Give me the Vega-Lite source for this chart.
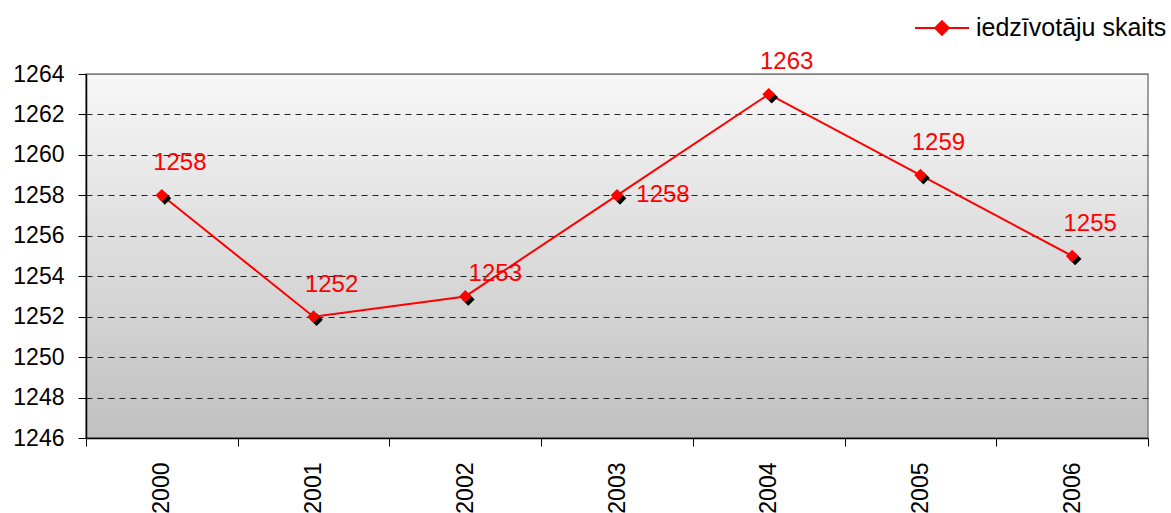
{
  "$schema": "https://vega.github.io/schema/vega-lite/v6.json",
  "width": 1062,
  "height": 364,
  "autosize": {"type": "none"},
  "padding": {"left": 86, "top": 74, "right": 23, "bottom": 75},
  "background": "white",
  "config": {
    "font": "Liberation Sans",
    "view": {
      "stroke": "#808080",
      "strokeWidth": 1.5,
      "fill": {
        "gradient": "linear",
        "x1": 0, "y1": 0, "x2": 0, "y2": 1,
        "stops": [
          {"offset": 0, "color": "#f7f7f7"},
          {"offset": 1, "color": "#c0c0c0"}
        ]
      }
    }
  },
  "data": {
    "values": [
      {"year": "2000", "value": 1258, "series": "iedzīvotāju skaits", "pos": "above"},
      {"year": "2001", "value": 1252, "series": "iedzīvotāju skaits", "pos": "above"},
      {"year": "2002", "value": 1253, "series": "iedzīvotāju skaits", "pos": "aboveright"},
      {"year": "2003", "value": 1258, "series": "iedzīvotāju skaits", "pos": "right"},
      {"year": "2004", "value": 1263, "series": "iedzīvotāju skaits", "pos": "above"},
      {"year": "2005", "value": 1259, "series": "iedzīvotāju skaits", "pos": "above"},
      {"year": "2006", "value": 1255, "series": "iedzīvotāju skaits", "pos": "above"}
    ]
  },
  "encoding": {
    "x": {
      "field": "year",
      "type": "ordinal",
      "scale": {"paddingInner": 0, "paddingOuter": 0},
      "axis": {
        "title": null,
        "tickBand": "extent",
        "labelAngle": -90,
        "labelAlign": "right",
        "labelBaseline": "middle",
        "labelFontSize": 23,
        "labelColor": "black",
        "labelPadding": 16,
        "tickSize": 8,
        "tickColor": "black",
        "domainColor": "black",
        "domainWidth": 1.5,
        "grid": false
      }
    },
    "y": {
      "field": "value",
      "type": "quantitative",
      "scale": {"domain": [1246, 1264], "nice": false, "zero": false},
      "axis": {
        "title": null,
        "format": "d",
        "values": [1246, 1248, 1250, 1252, 1254, 1256, 1258, 1260, 1262, 1264],
        "labelFontSize": 23,
        "labelColor": "black",
        "labelPadding": 14,
        "tickSize": 8,
        "tickColor": "black",
        "domainColor": "black",
        "domainWidth": 1.5,
        "grid": true,
        "gridColor": {"condition": {"test": "datum.value == 1264", "value": "#808080"}, "value": "#222222"},
        "gridDash": {"condition": {"test": "datum.value == 1264", "value": []}, "value": [6, 5]},
        "gridWidth": 1
      }
    }
  },
  "layer": [
    {
      "mark": {"type": "line", "strokeWidth": 2},
      "encoding": {
        "color": {
          "field": "series",
          "type": "nominal",
          "scale": {"range": ["red"]},
          "legend": {
            "title": null,
            "orient": "none",
            "legendX": 828,
            "legendY": -74,
            "symbolType": "M-1,0H1M-0.25,0L0,-0.25L0.25,0L0,0.25Z",
            "symbolSize": 2916,
            "symbolStrokeWidth": 2,
            "symbolFillColor": "red",
            "symbolStrokeColor": "red",
            "labelFontSize": 25,
            "labelLimit": 0,
            "labelColor": "black",
            "labelOffset": 6,
            "labelFont": "Liberation Sans"
          }
        }
      }
    },
    {
      "mark": {"type": "point", "shape": "diamond", "filled": true, "size": 160, "color": "black", "xOffset": 3, "yOffset": 3, "opacity": 1}
    },
    {
      "mark": {"type": "point", "shape": "diamond", "filled": true, "size": 160, "color": "red", "opacity": 1}
    },
    {
      "transform": [{"filter": "datum.pos == 'above'"}],
      "mark": {"type": "text", "color": "red", "fontSize": 24, "dx": 18, "dy": -32, "align": "center", "baseline": "middle"},
      "encoding": {"text": {"field": "value", "type": "quantitative"}}
    },
    {
      "transform": [{"filter": "datum.pos == 'aboveright'"}],
      "mark": {"type": "text", "color": "red", "fontSize": 24, "dx": 30, "dy": -22, "align": "center", "baseline": "middle"},
      "encoding": {"text": {"field": "value", "type": "quantitative"}}
    },
    {
      "transform": [{"filter": "datum.pos == 'right'"}],
      "mark": {"type": "text", "color": "red", "fontSize": 24, "dx": 46, "dy": 0, "align": "center", "baseline": "middle"},
      "encoding": {"text": {"field": "value", "type": "quantitative"}}
    }
  ]
}
